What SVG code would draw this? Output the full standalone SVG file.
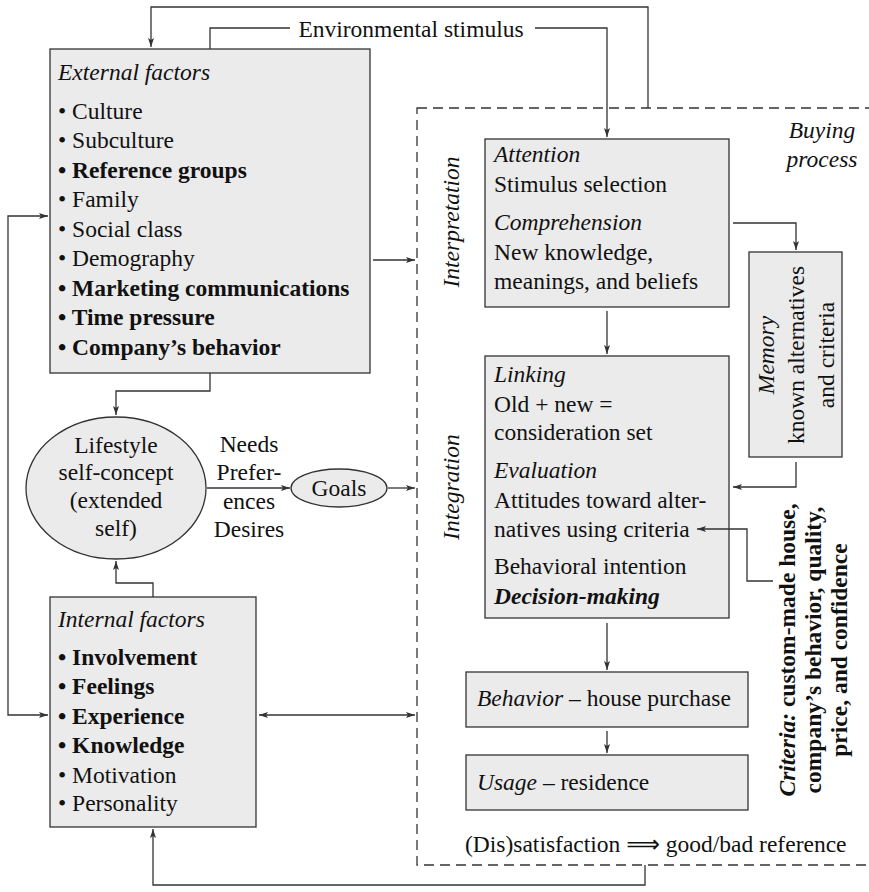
<svg xmlns="http://www.w3.org/2000/svg" width="869" height="892" viewBox="0 0 869 892">
<style>
.box{fill:#ebebeb;stroke:#333;stroke-width:1.3}
.t{font-family:"Liberation Serif","Times New Roman","DejaVu Serif",serif;font-size:23.5px;fill:#111}
.m{text-anchor:middle}
.i{font-style:italic}
.b{font-weight:bold}
.c{fill:none;stroke:#333;stroke-width:1.3}
.d{fill:none;stroke:#333;stroke-width:1.3;stroke-dasharray:10 6}
</style>
<defs>
<marker id="a" markerWidth="10" markerHeight="8" refX="9" refY="4" orient="auto-start-reverse" markerUnits="userSpaceOnUse">
<path d="M0,1 L9,4 L0,7 L2,4 z" fill="#333"/>
</marker>
</defs>

<g id="buying-process">
<rect class="d" x="417" y="108" width="470" height="757"/>
<text class="t i m" x="822" y="138">Buying</text>
<text class="t i m" x="822" y="167">process</text>
<text class="t i m" transform="translate(459,222) rotate(-90)">Interpretation</text>
<text class="t i m" transform="translate(459,487) rotate(-90)">Integration</text>
<text class="t" x="465" y="852">(Dis)satisfaction <tspan font-family="DejaVu Sans">⟹</tspan> good/bad reference</text>
</g>

<g id="environmental-stimulus">
<text class="t m" x="411" y="37">Environmental stimulus</text>
</g>

<g id="external-factors">
<rect class="box" x="50" y="49" width="320" height="324"/>
<text class="t i" x="58" y="80">External factors</text>
<text class="t" x="58" y="119">• Culture</text>
<text class="t" x="58" y="148">• Subculture</text>
<text class="t b" x="58" y="178">• Reference groups</text>
<text class="t" x="58" y="207">• Family</text>
<text class="t" x="58" y="237">• Social class</text>
<text class="t" x="58" y="266">• Demography</text>
<text class="t b" x="58" y="296">• Marketing communications</text>
<text class="t b" x="58" y="325">• Time pressure</text>
<text class="t b" x="58" y="355">• Company’s behavior</text>
</g>

<g id="lifestyle">
<ellipse class="box" cx="116" cy="488" rx="90" ry="71"/>
<text class="t m" x="116" y="453">Lifestyle</text>
<text class="t m" x="116" y="480">self-concept</text>
<text class="t m" x="116" y="508">(extended</text>
<text class="t m" x="116" y="536">self)</text>
</g>

<g id="needs-label">
<text class="t m" x="249" y="452">Needs</text>
<text class="t m" x="249" y="480">Prefer-</text>
<text class="t m" x="249" y="509">ences</text>
<text class="t m" x="249" y="537">Desires</text>
</g>

<g id="goals">
<ellipse class="box" cx="339" cy="488" rx="48" ry="19"/>
<text class="t m" x="339" y="496">Goals</text>
</g>

<g id="internal-factors">
<rect class="box" x="50" y="597" width="206" height="230"/>
<text class="t i" x="58" y="627">Internal factors</text>
<text class="t b" x="58" y="665">• Involvement</text>
<text class="t b" x="58" y="694">• Feelings</text>
<text class="t b" x="58" y="724">• Experience</text>
<text class="t b" x="58" y="753">• Knowledge</text>
<text class="t" x="58" y="783">• Motivation</text>
<text class="t" x="58" y="811">• Personality</text>
</g>

<g id="attention">
<rect class="box" x="485" y="139" width="244" height="168"/>
<text class="t i" x="494" y="162">Attention</text>
<text class="t" x="494" y="192">Stimulus selection</text>
<text class="t i" x="494" y="230">Comprehension</text>
<text class="t" x="494" y="260">New knowledge,</text>
<text class="t" x="494" y="289">meanings, and beliefs</text>
</g>

<g id="memory">
<rect class="box" x="749" y="252" width="93" height="205"/>
<text class="t i m" transform="translate(774,355) rotate(-90)">Memory</text>
<text class="t m" transform="translate(804,355) rotate(-90)">known alternatives</text>
<text class="t m" transform="translate(834,355) rotate(-90)">and criteria</text>
</g>

<g id="linking">
<rect class="box" x="485" y="356" width="244" height="262"/>
<text class="t i" x="494" y="382">Linking</text>
<text class="t" x="494" y="412">Old + new =</text>
<text class="t" x="494" y="440">consideration set</text>
<text class="t i" x="494" y="478">Evaluation</text>
<text class="t" x="494" y="508">Attitudes toward alter-</text>
<text class="t" x="494" y="537">natives using criteria</text>
<text class="t" x="494" y="574">Behavioral intention</text>
<text class="t i b" x="494" y="604">Decision-making</text>
</g>

<g id="criteria">
<text class="t b m" transform="translate(795,650) rotate(-90)"><tspan class="i">Criteria:</tspan> custom-made house,</text>
<text class="t b m" transform="translate(821,650) rotate(-90)">company’s behavior, quality,</text>
<text class="t b m" transform="translate(847,650) rotate(-90)">price, and confidence</text>
</g>

<g id="behavior">
<rect class="box" x="466" y="672" width="282" height="55"/>
<text class="t" x="477" y="706"><tspan class="i">Behavior</tspan> – house purchase</text>
</g>

<g id="usage">
<rect class="box" x="466" y="755" width="282" height="55"/>
<text class="t" x="477" y="790"><tspan class="i">Usage</tspan> – residence</text>
</g>

<g id="connectors">
<path class="c" d="M648,108 V7 H151 V47" marker-end="url(#a)"/>
<path class="c" d="M210,49 V28 H290"/>
<path class="c" d="M535,28 H607 V137" marker-end="url(#a)"/>
<path class="c" d="M373,260 H415" marker-end="url(#a)"/>
<path class="c" d="M210,373 V391 H116 V415" marker-end="url(#a)"/>
<path class="c" d="M153,597 V583 H116 V561" marker-end="url(#a)"/>
<path class="c" d="M207,488 H290" marker-end="url(#a)"/>
<path class="c" d="M388,488 H415" marker-end="url(#a)"/>
<path class="c" d="M259,715 H415" marker-start="url(#a)" marker-end="url(#a)"/>
<path class="c" d="M48,216 H8 V715 H48" marker-start="url(#a)" marker-end="url(#a)"/>
<path class="c" d="M645,865 V885 H153 V829" marker-end="url(#a)"/>
<path class="c" d="M733,223 H796 V250" marker-end="url(#a)"/>
<path class="c" d="M607,311 V354" marker-end="url(#a)"/>
<path class="c" d="M796,462 V487 H733" marker-end="url(#a)"/>
<path class="c" d="M773,581 H747 V529 H697" marker-end="url(#a)"/>
<path class="c" d="M607,623 V670" marker-end="url(#a)"/>
<path class="c" d="M607,731 V753" marker-end="url(#a)"/>
</g>
</svg>
